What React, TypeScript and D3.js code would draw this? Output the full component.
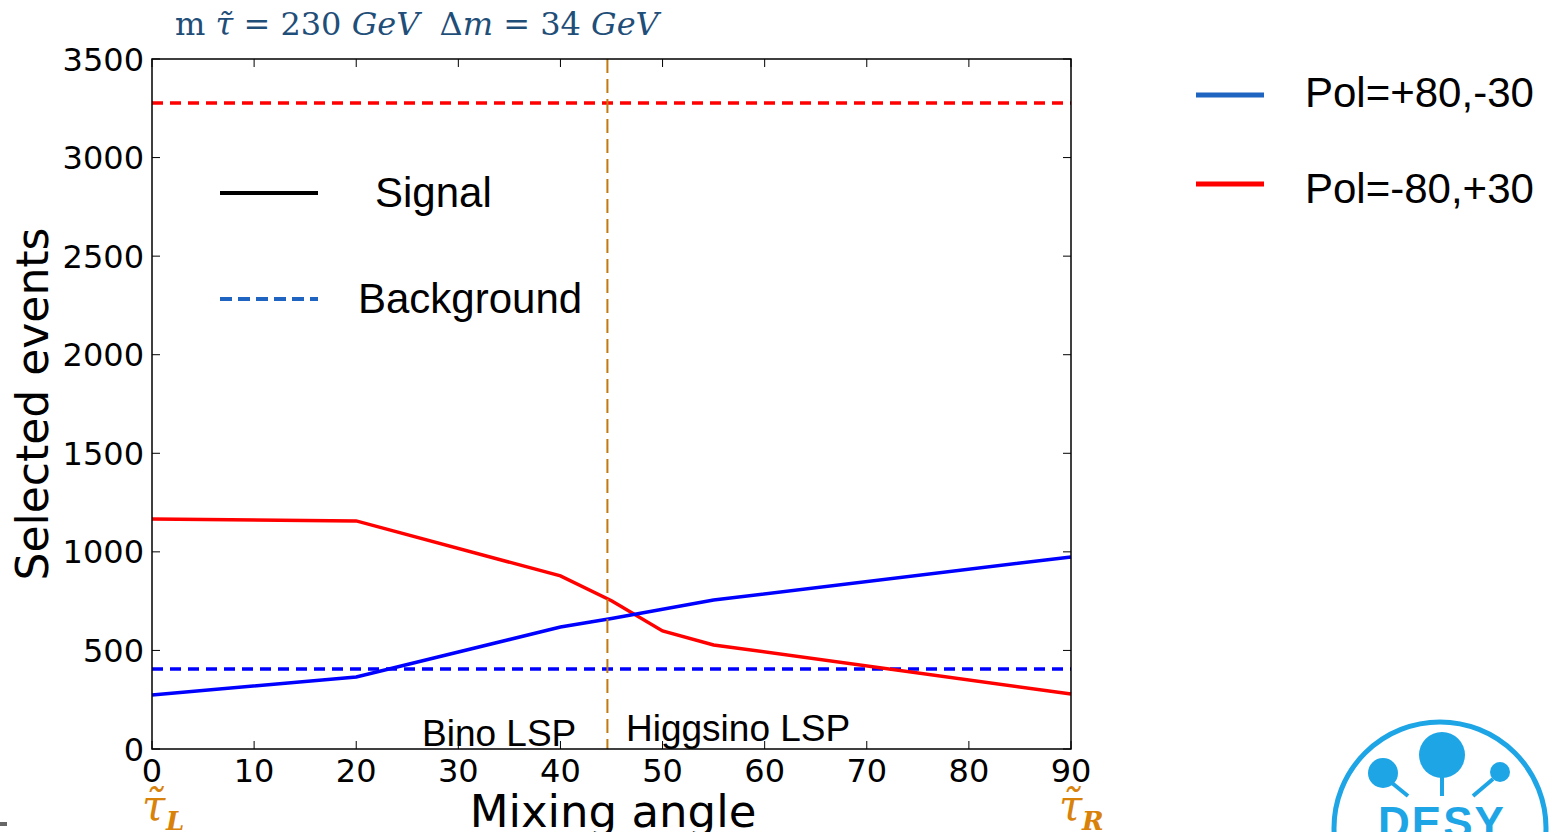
import * as d3 from "d3";

const angles = [0, 20, 40, 45, 55, 90];
const sigPlus = [274, 365, 619, 662, 756, 974];
const anglesMinus = [0, 20, 40, 45, 50, 55, 90];
const sigMinus = [1167, 1157, 878, 752, 599, 528, 279];
const bgPlus = 406;
const bgMinus = 3277;
const mixLine = 44.6;
const xTicks = [0, 10, 20, 30, 40, 50, 60, 70, 80, 90];
const yTicks = [0, 500, 1000, 1500, 2000, 2500, 3000, 3500];

export default function App() {
  const width = 1554;
  const height = 832;
  const x = d3.scaleLinear([0, 90], [152, 1071]);
  const y = d3.scaleLinear([0, 3500], [749, 59]);
  const line = d3.line<[number, number]>().x((d) => x(d[0])).y((d) => y(d[1]));
  const plus = angles.map((a, i) => [a, sigPlus[i]] as [number, number]);
  const minus = anglesMinus.map((a, i) => [a, sigMinus[i]] as [number, number]);
  const tickFont = "DejaVu Sans";
  const orange = "#d9820a";
  const desy = "#1ea5e6";

  return (
    <svg width={width} height={height} style={{ position: "absolute", left: 0, top: 0 }}>
      <rect width={width} height={height} fill="white" />
      <text x={175} y={35} fontFamily="DejaVu Serif" fontSize={32} fill="#1f4e79" style={{ whiteSpace: "pre" }}>
        <tspan>m </tspan>
        <tspan fontStyle="italic">τ̃</tspan>
        <tspan> = 230 </tspan>
        <tspan fontStyle="italic">GeV</tspan>
        <tspan>  Δ</tspan>
        <tspan fontStyle="italic">m</tspan>
        <tspan> = 34 </tspan>
        <tspan fontStyle="italic">GeV</tspan>
      </text>

      {/* data */}
      <line x1={x(0)} x2={x(90)} y1={y(bgMinus)} y2={y(bgMinus)} stroke="#ff0000" strokeWidth={3.5} strokeDasharray="11,7" />
      <line x1={x(0)} x2={x(90)} y1={y(bgPlus)} y2={y(bgPlus)} stroke="#0000ff" strokeWidth={3.5} strokeDasharray="11,7" />
      <path d={line(minus) ?? ""} fill="none" stroke="#ff0000" strokeWidth={3.5} />
      <path d={line(plus) ?? ""} fill="none" stroke="#0000ff" strokeWidth={3.5} />
      <line x1={x(mixLine)} x2={x(mixLine)} y1={y(3500)} y2={y(0)} stroke="#c07a10" strokeWidth={2} strokeDasharray="14,6" />

      {/* frame and ticks */}
      <rect x={x(0)} y={y(3500)} width={x(90) - x(0)} height={y(0) - y(3500)} fill="none" stroke="black" strokeWidth={1.5} />
      {xTicks.map((t) => (
        <g key={"x" + t}>
          <line x1={x(t)} x2={x(t)} y1={y(0)} y2={y(0) - 8} stroke="black" strokeWidth={1} />
          <line x1={x(t)} x2={x(t)} y1={y(3500)} y2={y(3500) + 8} stroke="black" strokeWidth={1} />
          <text x={x(t)} y={782} textAnchor="middle" fontFamily={tickFont} fontSize={32}>{t}</text>
        </g>
      ))}
      {yTicks.map((t) => (
        <g key={"y" + t}>
          <line x1={x(0)} x2={x(0) + 8} y1={y(t)} y2={y(t)} stroke="black" strokeWidth={1} />
          <line x1={x(90)} x2={x(90) - 8} y1={y(t)} y2={y(t)} stroke="black" strokeWidth={1} />
          <text x={144} y={y(t)} dy="0.36em" textAnchor="end" fontFamily={tickFont} fontSize={32}>{t}</text>
        </g>
      ))}
      <text transform="translate(48,404) rotate(-90)" textAnchor="middle" fontFamily={tickFont} fontSize={44}>Selected events</text>
      <text x={613} y={827} textAnchor="middle" fontFamily={tickFont} fontSize={45}>Mixing angle</text>

      {/* region labels */}
      <text x={422} y={746} fontFamily="Liberation Sans" fontSize={37}>Bino LSP</text>
      <text x={626} y={741} fontFamily="Liberation Sans" fontSize={37}>Higgsino LSP</text>

      {/* inner legend */}
      <line x1={220} x2={318} y1={193} y2={193} stroke="black" strokeWidth={4} />
      <text x={375} y={207} fontFamily="Liberation Sans" fontSize={42}>Signal</text>
      <line x1={220} x2={318} y1={299} y2={299} stroke="#1f64c0" strokeWidth={4} strokeDasharray="12,6" />
      <text x={358} y={313} fontFamily="Liberation Sans" fontSize={42}>Background</text>

      {/* outer legend */}
      <line x1={1196} x2={1264} y1={95} y2={95} stroke="#1f64c0" strokeWidth={5} />
      <text x={1305} y={107} fontFamily="Liberation Sans" fontSize={42}>Pol=+80,-30</text>
      <line x1={1196} x2={1264} y1={184} y2={184} stroke="#ff0000" strokeWidth={5} />
      <text x={1305} y={203} fontFamily="Liberation Sans" fontSize={42}>Pol=-80,+30</text>

      {/* tau labels */}
      <text x={142} y={820} fontFamily="DejaVu Serif" fontStyle="italic" fontSize={42} fill={orange}>τ̃</text>
      <text x={166} y={830} fontFamily="DejaVu Serif" fontStyle="italic" fontWeight="bold" fontSize={26} fill={orange}>L</text>
      <text x={1059} y={820} fontFamily="DejaVu Serif" fontStyle="italic" fontSize={42} fill={orange}>τ̃</text>
      <text x={1082} y={830} fontFamily="DejaVu Serif" fontStyle="italic" fontWeight="bold" fontSize={26} fill={orange}>R</text>

      <rect x={0} y={822} width={7} height={4} fill="#666" />

      {/* DESY logo */}
      <circle cx={1440} cy={828} r={106} fill="none" stroke={desy} strokeWidth={5} />
      <circle cx={1442} cy={755} r={23} fill={desy} />
      <line x1={1442} x2={1442} y1={775} y2={796} stroke={desy} strokeWidth={4} />
      <circle cx={1383} cy={773} r={15} fill={desy} />
      <line x1={1392} x2={1408} y1={783} y2={796} stroke={desy} strokeWidth={4} />
      <circle cx={1500} cy={772} r={10} fill={desy} />
      <line x1={1493} x2={1473} y1={779} y2={796} stroke={desy} strokeWidth={4} />
      <text x={1442} y={838} textAnchor="middle" fontFamily="Liberation Sans" fontWeight="bold" fontSize={44} letterSpacing={2} fill={desy}>DESY</text>
    </svg>
  );
}
